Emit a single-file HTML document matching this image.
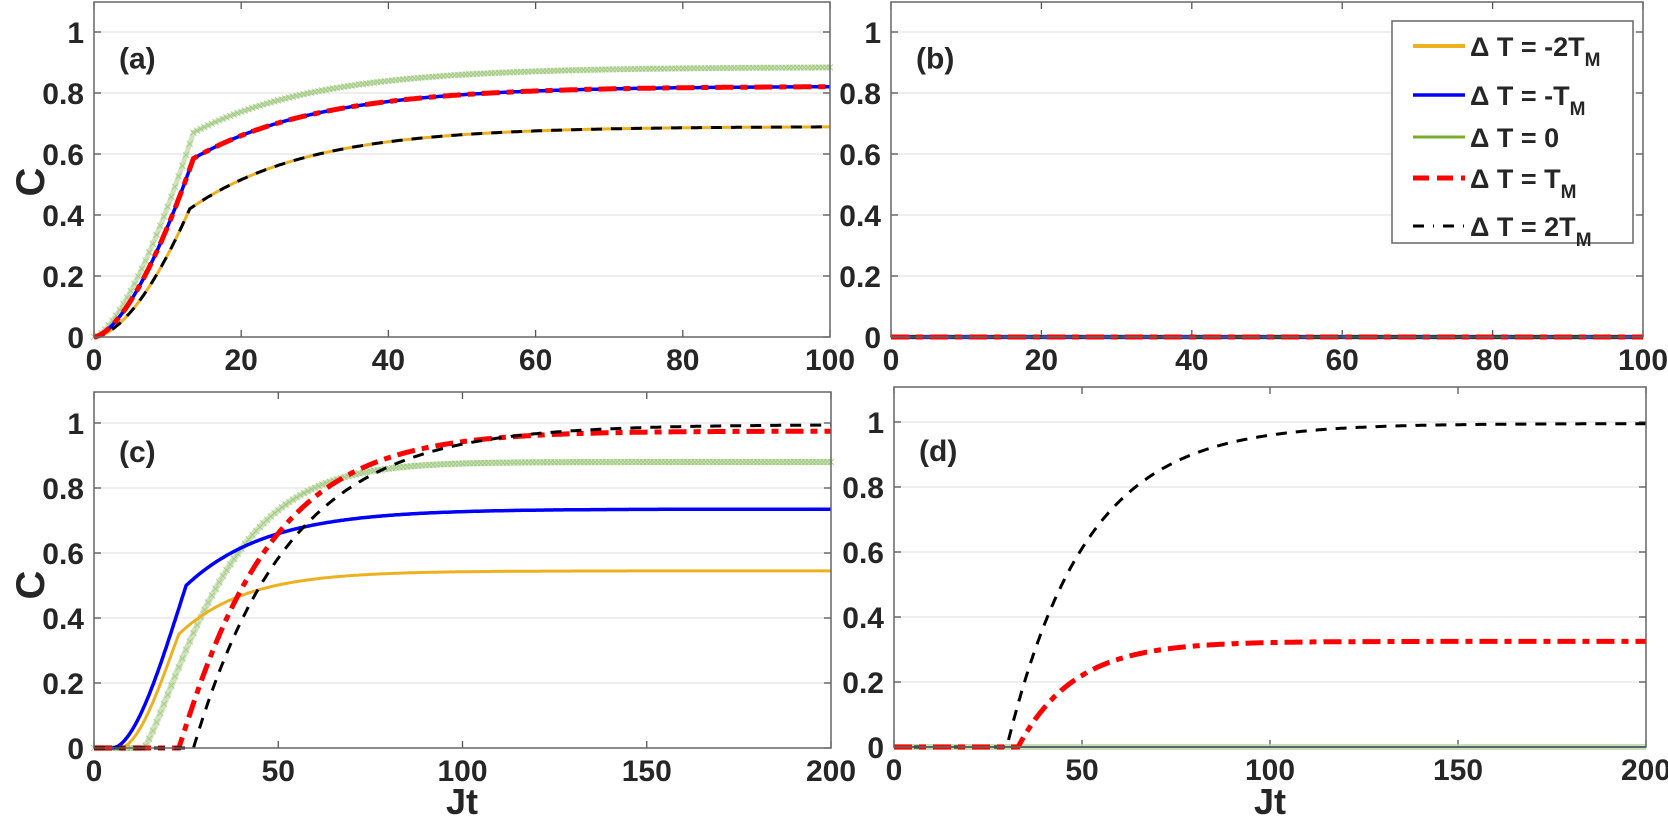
<!DOCTYPE html>
<html><head><meta charset="utf-8"><style>
body{margin:0;background:#fff}
svg{display:block}
text{font-family:"Liberation Sans",sans-serif;font-weight:bold;fill:#262626}
</style></head><body>
<svg id="s" width="1668" height="835" xmlns="http://www.w3.org/2000/svg"></svg>
<script>
const S=document.getElementById('s');let h='';
const P={a:{x0:94,x1:830,top:2,y0:337,y1:32,xm:100,xt:[0,20,40,60,80,100]},
b:{x0:891,x1:1643,top:2,y0:337,y1:32,xm:100,xt:[0,20,40,60,80,100]},
c:{x0:94,x1:831,top:392,y0:748,y1:423,xm:200,xt:[0,50,100,150,200]},
d:{x0:894,x1:1646,top:387,y0:747,y1:422,xm:200,xt:[0,50,100,150,200]}};
function X(p,t){return p.x0+(p.x1-p.x0)*t/p.xm}
function Y(p,c){return p.y0-(p.y0-p.y1)*c}
function axes(p,lab){
 for(let v=0.2;v<=1.01;v+=0.2){const y=Y(p,v);h+=`<line x1="${p.x0}" x2="${p.x1}" y1="${y}" y2="${y}" stroke="#e3e3e3" stroke-width="1.2"/>`;}
 for(let i=0;i<=5;i++){const v=i*0.2,y=Y(p,v);h+=`<line x1="${p.x0}" x2="${p.x0+7}" y1="${y}" y2="${y}" stroke="#555" stroke-width="1.3"/><line x1="${p.x1-7}" x2="${p.x1}" y1="${y}" y2="${y}" stroke="#555" stroke-width="1.3"/>`;
 h+=`<text x="${p.x0-10}" y="${y+11}" font-size="30" text-anchor="end">${i==0?'0':i==5?'1':v.toFixed(1)}</text>`;}
 p.xt.forEach(t=>{const x=X(p,t);h+=`<line x1="${x}" x2="${x}" y1="${p.y0}" y2="${p.y0-7}" stroke="#555" stroke-width="1.3"/><line x1="${x}" x2="${x}" y1="${p.top}" y2="${p.top+7}" stroke="#555" stroke-width="1.3"/>`;
 h+=`<text x="${x}" y="${p.y0+33}" font-size="30" text-anchor="middle">${t}</text>`;});
 h+=`<text x="${p.x0+25}" y="${Y(p,0.88)}" font-size="30">(${lab})</text>`;
}
function path(p,f,tmax,st){let d='';for(let t=0;t<=tmax+1e-9;t+=p.xm/800){d+=(d?'L':'M')+X(p,t).toFixed(1)+','+Y(p,f(t)).toFixed(1);}h+=`<path d="${d}" fill="none" ${st}/>`;}
function marks(p,f,step){for(let t=0;t<=p.xm+1e-9;t+=step){const x=X(p,t),y=Y(p,f(t));h+=`<path d="M${x-3},${y-3}L${x+3},${y+3}M${x-3},${y+3}L${x+3},${y-3}" stroke="#9cc77a" stroke-width="1" opacity="0.8"/>`;}}
function kink(tk,ck,cinf,tau,pw){return t=>t<tk?ck*Math.pow(t/tk,pw):cinf-(cinf-ck)*Math.exp(-(t-tk)/tau)}
function del(t0,cinf,tau,pw){return t=>t<=t0?0:cinf*(1-Math.exp(-Math.pow((t-t0)/tau,pw)))}
function sig(t0,tk,ck,cinf,tau){return t=>t<=t0?0:t<tk?ck*(1-Math.cos(Math.PI/2*(t-t0)/(tk-t0)))**0.9:cinf-(cinf-ck)*Math.exp(-(t-tk)/tau)}
const OR='stroke="#EDB120" stroke-width="3"',BL='stroke="#0000FF" stroke-width="3.5"',
RD='stroke="#FF0000" stroke-width="5" stroke-dasharray="18,7,7,7"',BK='stroke="#000" stroke-width="3" stroke-dasharray="11,9"';
let p=P.a;axes(p,'a');
let fg=kink(13.5,0.67,0.885,17,1.5),fb=kink(13.5,0.585,0.822,17,1.6),fo=kink(13,0.42,0.69,16,1.7);
path(p,fg,100,'stroke="#b9d7a0" stroke-width="5" opacity="0.7"');marks(p,fg,0.5);
path(p,fo,100,OR);path(p,fo,100,BK);path(p,fb,100,BL);path(p,fb,100,RD);
p=P.b;axes(p,'b');
path(p,t=>0,100,'stroke="#9cc77a" stroke-width="5"');path(p,t=>0,100,BL);path(p,t=>0,100,BK);path(p,t=>0,100,RD);
p=P.c;axes(p,'c');
let cg=del(13.5,0.88,23,1.25);
path(p,cg,200,'stroke="#b9d7a0" stroke-width="6" opacity="0.7"');marks(p,cg,1);
path(p,sig(7,23,0.35,0.545,18),200,OR);
path(p,sig(5,25,0.5,0.735,22),200,BL);
path(p,del(23,0.975,24,1.05),200,RD);
path(p,del(27,0.995,26,1),200,BK);
p=P.d;axes(p,'d');
path(p,t=>0,200,'stroke="#b9d7a0" stroke-width="6" opacity="0.8"');path(p,t=>0,200,'stroke="#3a5f8a" stroke-width="2"');
path(p,del(30,0.995,21,1),200,BK);
path(p,del(33,0.325,15,1),200,RD);
for(const k in P){const q=P[k];h+=`<rect x="${q.x0}" y="${q.top}" width="${q.x1-q.x0}" height="${q.y0-q.top}" fill="none" stroke="#666" stroke-width="1.5"/>`;}
h+=`<text transform="translate(44,182) rotate(-90)" font-size="40" text-anchor="middle">C</text>`;
h+=`<text transform="translate(44,585) rotate(-90)" font-size="40" text-anchor="middle">C</text>`;
h+=`<text x="462" y="814" font-size="36" text-anchor="middle">Jt</text>`;
h+=`<text x="1270" y="814" font-size="36" text-anchor="middle">Jt</text>`;
h+=`<rect x="1392" y="21" width="241" height="222" fill="#fff" stroke="#666" stroke-width="1.5"/>`;
const L=[[OR.replace('3"','4"'),'-2T','M',46],[BL,'-T','M',95],['stroke="#77AC30" stroke-width="3"','0','',137],[RD.replace('18,7,7,7','16,8'),'T','M',178],['stroke="#000" stroke-width="3" stroke-dasharray="11,9,1,9"','2T','M',226]];
L.forEach(([st,a,sb,y])=>{h+=`<line x1="1413" x2="1465" y1="${y}" y2="${y}" ${st}/>`;
 h+=`<text x="1470" y="${y+10}" font-size="27">Δ T = ${a}${sb?`<tspan font-size="19" dy="10">${sb}</tspan>`:''}</text>`;});
S.innerHTML=h;
</script>
</body></html>
